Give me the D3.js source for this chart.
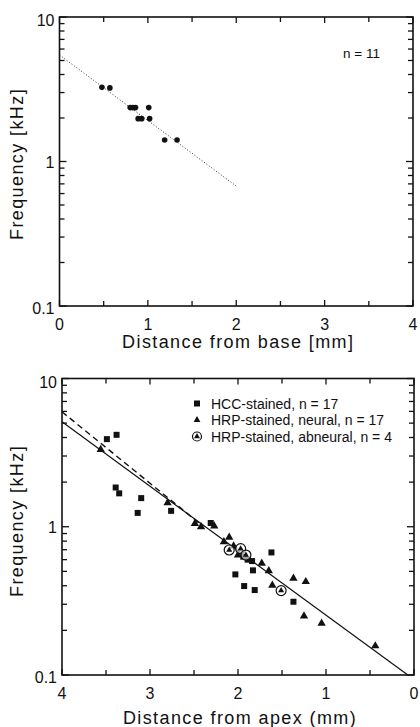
<!DOCTYPE html>
<html lang="en">
<head>
	<meta charset="utf-8">
	<title>Frequency vs distance</title>
	<script src="https://d3js.org/d3.v7.min.js"></script>
	<style>
		body { margin: 0; background: #fff; }
		text { font-family: "Liberation Sans", Arial, sans-serif; fill: #111; }
	</style>
</head>
<body>
	<script>
        // top panel: distance from base (mm) and CF (kHz)
        var baseDist = [0.48, 0.57, 0.80, 0.83, 0.86, 1.01, 0.89, 0.93, 1.02, 1.19, 1.33];
        var baseFreq = [3.26, 3.23, 2.36, 2.36, 2.36, 2.36, 1.98, 1.98, 1.98, 1.41, 1.41];
        var baseFitDist = [0, 2];
        var baseFitFreq = [5.46, 0.676];

        // bottom panel: distance from apex (mm) and frequency (kHz)
        var hccDist = [3.49, 3.38, 3.39, 3.35, 3.10, 3.14, 2.76, 2.31, 2.03, 1.93, 1.81, 1.83, 1.84, 1.62, 1.37, 1.94, 1.89];
        var hccFreq = [3.90, 4.17, 1.84, 1.68, 1.56, 1.24, 1.28, 1.06, 0.477, 0.398, 0.374, 0.508, 0.587, 0.671, 0.312, 0.628, 0.60];
        var neuralDist = [3.56, 2.80, 2.49, 2.42, 2.27, 2.16, 2.10, 2.05, 2.00, 1.73, 1.65, 1.61, 1.37, 1.23, 1.25, 1.05, 0.44];
        var neuralFreq = [3.32, 1.45, 1.05, 1.00, 1.01, 0.79, 0.848, 0.741, 0.644, 0.566, 0.505, 0.402, 0.449, 0.426, 0.25, 0.223, 0.157];
        var abneuralDist = [2.10, 1.97, 1.91, 1.51];
        var abneuralFreq = [0.697, 0.711, 0.644, 0.371];
        var solidFitDist = [4, 0.07];
        var solidFitFreq = [5.1, 0.1];
        var dashFitDist = [4, 2.4];
        var dashFitFreq = [5.96, 1.01];

        var legendLabels = ["HCC-stained, n = 17", "HRP-stained, neural, n = 17", "HRP-stained, abneural, n = 4"];
        var xTicks = [0, 1, 2, 3, 4];
        var yTicks = [0.1, 1, 10];

        var svg = d3.select("body").append("svg")
            .attr("width", 420)
            .attr("height", 727);

        function pts(xs, ys) {
            return xs.map(function(d, i) { return [d, ys[i]]; });
        }

        // draw frame, ticks and labels for one panel
        function panel(x, y, xTitle, xTitleGap, yTitleY) {
            var g = svg.append("g");
            var x0 = d3.min(x.range()), x1 = d3.max(x.range());
            var y0 = y.range()[1], y1 = y.range()[0];

            // minor + major log ticks on left and right, inward
            var logTicks = [];
            [0.1, 1].forEach(function(dec) {
                for (var k = 1; k < 10; k++) logTicks.push(dec * k);
            });
            logTicks.push(10);
            logTicks.forEach(function(v) {
                var major = yTicks.indexOf(+v.toFixed(3)) >= 0;
                var len = major ? 7 : 5;
                g.append("line").attr("x1", x0).attr("x2", x0 + len)
                    .attr("y1", y(v)).attr("y2", y(v));
                g.append("line").attr("x1", x1).attr("x2", x1 - len)
                    .attr("y1", y(v)).attr("y2", y(v));
            });
            // x ticks every 0.5 mm, top and bottom
            d3.range(0, 4.01, 0.5).forEach(function(v) {
                var len = (v % 1 === 0) ? 6 : 5;
                g.append("line").attr("x1", x(v)).attr("x2", x(v))
                    .attr("y1", y1).attr("y2", y1 - len);
                g.append("line").attr("x1", x(v)).attr("x2", x(v))
                    .attr("y1", y0).attr("y2", y0 + len);
            });
            g.selectAll("line").attr("stroke", "#111").attr("stroke-width", 1.3);

            g.append("rect")
                .attr("x", x0).attr("y", y0)
                .attr("width", x1 - x0).attr("height", y1 - y0)
                .attr("fill", "none").attr("stroke", "#111").attr("stroke-width", 1.6);

            g.selectAll(".xl").data(xTicks).enter().append("text")
                .attr("x", function(d) { return x(d); })
                .attr("y", y1 + 24)
                .attr("text-anchor", "middle")
                .attr("font-size", 16)
                .text(function(d) { return d; });

            g.selectAll(".yl").data(yTicks).enter().append("text")
                .attr("x", x0 - 5)
                .attr("y", function(d) { return y(d) + 6 + (d === 10 ? 3 : 0) + (d === 0.1 ? 2 : 0); })
                .attr("text-anchor", "end")
                .attr("font-size", 16)
                .text(function(d) { return d; });

            g.append("text")
                .attr("x", (x0 + x1) / 2 + 2)
                .attr("y", y1 + xTitleGap)
                .attr("text-anchor", "middle")
                .attr("font-size", 18)
                .attr("letter-spacing", 1.4)
                .text(xTitle);

            g.append("text")
                .attr("transform", "translate(23," + yTitleY + ") rotate(-90)")
                .attr("text-anchor", "middle")
                .attr("font-size", 18)
                .attr("letter-spacing", 1.4)
                .text("Frequency [kHz]");
            return g;
        }

        // ---- top panel ----
        var xTop = d3.scaleLinear().domain([0, 4]).range([59.5, 413]);
        var yTop = d3.scaleLog().domain([0.1, 10]).range([306, 17]);
        var gTop = panel(xTop, yTop, "Distance from base [mm]", 42, 164);

        gTop.append("path")
            .attr("d", d3.line().x(function(d) { return xTop(d[0]); }).y(function(d) { return yTop(d[1]); })(pts(baseFitDist, baseFitFreq)))
            .attr("fill", "none").attr("stroke", "#333").attr("stroke-width", 1)
            .attr("stroke-dasharray", "1,2");

        gTop.selectAll(".dot").data(pts(baseDist, baseFreq)).enter().append("circle")
            .attr("cx", function(d) { return xTop(d[0]); })
            .attr("cy", function(d) { return yTop(d[1]); })
            .attr("r", 2.8)
            .attr("fill", "#111");

        gTop.append("text")
            .attr("x", 343).attr("y", 57.5)
            .attr("font-size", 13.5)
            .text("n = 11");

        // ---- bottom panel ----
        var xBot = d3.scaleLinear().domain([4, 0]).range([62, 414]);
        var yBot = d3.scaleLog().domain([0.1, 10]).range([675, 378.5]);
        var gBot = panel(xBot, yBot, "Distance from apex (mm)", 49, 521);

        var lineBot = d3.line().x(function(d) { return xBot(d[0]); }).y(function(d) { return yBot(d[1]); });
        gBot.append("path")
            .attr("d", lineBot(pts(solidFitDist, solidFitFreq)))
            .attr("fill", "none").attr("stroke", "#111").attr("stroke-width", 1.2);
        gBot.append("path")
            .attr("d", lineBot(pts(dashFitDist, dashFitFreq)))
            .attr("fill", "none").attr("stroke", "#111").attr("stroke-width", 1.4)
            .attr("stroke-dasharray", "6,4");

        var triPath = d3.symbol().type(d3.symbolTriangle).size(30);
        var triSmall = d3.symbol().type(d3.symbolTriangle).size(16);

        gBot.selectAll(".sq").data(pts(hccDist, hccFreq)).enter().append("rect")
            .attr("x", function(d) { return xBot(d[0]) - 3; })
            .attr("y", function(d) { return yBot(d[1]) - 3; })
            .attr("width", 6).attr("height", 6)
            .attr("fill", "#111");

        gBot.selectAll(".tri").data(pts(neuralDist, neuralFreq)).enter().append("path")
            .attr("transform", function(d) { return "translate(" + xBot(d[0]) + "," + yBot(d[1]) + ")"; })
            .attr("d", triPath)
            .attr("fill", "#111");

        var ab = gBot.selectAll(".ab").data(pts(abneuralDist, abneuralFreq)).enter().append("g")
            .attr("transform", function(d) { return "translate(" + xBot(d[0]) + "," + yBot(d[1]) + ")"; });
        ab.append("circle").attr("r", 5).attr("fill", "#fff").attr("fill-opacity", 0.6)
            .attr("stroke", "#111").attr("stroke-width", 1.2);
        ab.append("path").attr("d", triSmall).attr("fill", "#111");

        // legend
        var legY = [403.5, 420, 436.5];
        var leg = gBot.append("g");
        leg.append("rect").attr("x", 194).attr("y", legY[0] - 3).attr("width", 6).attr("height", 6).attr("fill", "#111");
        leg.append("path").attr("transform", "translate(197," + legY[1] + ")").attr("d", d3.symbol().type(d3.symbolTriangle).size(20)).attr("fill", "#111");
        leg.append("circle").attr("cx", 197).attr("cy", legY[2]).attr("r", 4.5)
            .attr("fill", "#fff").attr("stroke", "#111").attr("stroke-width", 1.2);
        leg.append("path").attr("transform", "translate(197," + legY[2] + ")").attr("d", triSmall).attr("fill", "#111");
        leg.selectAll("text").data(legendLabels).enter().append("text")
            .attr("x", 211)
            .attr("y", function(d, i) { return legY[i] + 5; })
            .attr("font-size", 14)
            .text(function(d) { return d; });
	</script>
</body>
</html>
